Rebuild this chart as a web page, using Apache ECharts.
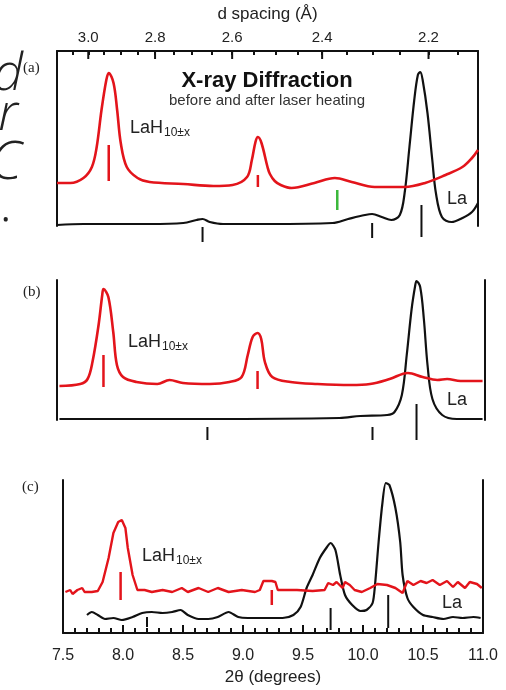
<!DOCTYPE html>
<html>
<head>
<meta charset="utf-8">
<script src="https://cdn.jsdelivr.net/npm/echarts@6/dist/echarts.min.js"></script>
<style>
  html, body { margin: 0; padding: 0; background: #fff; }
  #main { width: 506px; height: 690px; }
</style>
</head>
<body>
<div id="main"></div>
<script>
// X-ray wavelength (A), used for the d-spacing axis on top
var LAMBDA = 0.406;
var dMajor = [3.0, 2.8, 2.6, 2.4, 2.2];
var dMinor = [3.05, 2.95, 2.9, 2.85, 2.75, 2.7, 2.65, 2.55, 2.5, 2.45, 2.35, 2.3, 2.25, 2.15];

// panel (a)  [2theta, intensity]
var redA = [[7.50,43],[7.61,43],[7.72,48],[7.79,59],[7.83,79],[7.87,116],[7.91,146],[7.93,153],[7.97,143],[8.00,116],[8.03,83],[8.08,59],[8.17,48],[8.27,44],[8.55,42],[8.80,40],[8.96,41],[9.08,49],[9.12,66],[9.15,84],[9.17,89],[9.20,83],[9.25,59],[9.27,52],[9.31,45],[9.36,41],[9.45,38],[9.64,43],[9.81,48],[9.95,44],[10.14,39],[10.39,39],[10.56,43],[10.73,51],[10.87,59],[10.95,68],[11.00,76]];
var blackA = [[7.50,1],[7.72,2],[8.27,2],[8.55,3],[8.66,6],[8.71,7],[8.77,4],[8.88,2],[9.27,2],[9.79,3],[9.92,7],[10.06,11],[10.12,12],[10.20,9],[10.28,6],[10.35,11],[10.39,33],[10.43,79],[10.47,126],[10.50,151],[10.52,154],[10.54,146],[10.58,113],[10.62,66],[10.65,33],[10.70,9],[10.78,4],[10.87,8],[10.95,14],[11.00,23]];
// reflection markers [2theta, top, bottom]
var tickBlackA = [[8.71,-1,-16],[10.12,3,-12],[10.53,21,-11]];
var tickGreenA = [[9.83,36,16]];
var tickRedA = [[7.93,81,45],[9.17,51,39]];

// panel (b)
var redB = [[7.52,34],[7.69,36],[7.75,41],[7.79,58],[7.84,95],[7.87,125],[7.88,131],[7.92,123],[7.96,88],[7.99,55],[8.04,43],[8.15,38],[8.32,36],[8.42,40],[8.53,37],[8.75,36],[8.91,38],[9.01,43],[9.06,65],[9.10,83],[9.14,87],[9.17,81],[9.20,58],[9.26,43],[9.41,38],[9.63,36],[9.90,35],[10.06,36],[10.22,41],[10.37,47],[10.49,43],[10.61,40],[10.69,41],[10.80,39],[10.98,39]];
var blackB = [[7.52,1],[7.99,1],[8.71,1],[9.81,2],[9.98,4],[10.20,5],[10.26,8],[10.32,25],[10.36,65],[10.40,111],[10.43,135],[10.44,139],[10.47,133],[10.50,101],[10.53,55],[10.57,21],[10.65,5],[10.77,1],[10.98,1]];
var tickBlackB = [[8.73,-7,-20],[10.08,-7,-20],[10.44,16,-20]];
var tickRedB = [[7.88,65,33],[9.14,49,31]];

// panel (c)
var redC = [[7.52,41],[7.56,43],[7.58,39],[7.62,43],[7.66,45],[7.68,41],[7.74,41],[7.79,42],[7.83,51],[7.88,75],[7.92,100],[7.96,111],[7.99,113],[8.02,105],[8.04,85],[8.08,58],[8.12,43],[8.18,43],[8.24,41],[8.33,43],[8.41,41],[8.49,45],[8.54,41],[8.63,45],[8.71,41],[8.79,45],[8.88,41],[8.99,43],[9.10,41],[9.14,43],[9.17,52],[9.24,52],[9.27,51],[9.29,43],[9.45,43],[9.58,42],[9.68,43],[9.71,50],[9.75,48],[9.78,51],[9.83,45],[9.85,51],[9.89,48],[9.93,43],[9.99,41],[10.06,45],[10.12,49],[10.20,48],[10.27,45],[10.33,40],[10.37,52],[10.42,48],[10.48,52],[10.53,50],[10.58,53],[10.64,48],[10.70,52],[10.75,46],[10.79,51],[10.85,45],[10.89,51],[10.95,49],[10.99,45]];
var blackC = [[7.70,18],[7.74,21],[7.79,18],[7.85,14],[7.92,15],[7.99,13],[8.08,16],[8.16,20],[8.24,21],[8.33,20],[8.41,21],[8.48,23],[8.54,18],[8.63,14],[8.71,14],[8.79,16],[8.88,21],[8.96,16],[9.04,15],[9.16,15],[9.25,15],[9.33,15],[9.42,18],[9.48,26],[9.53,45],[9.58,58],[9.64,75],[9.70,86],[9.73,90],[9.77,83],[9.81,58],[9.85,38],[9.91,28],[9.98,22],[10.03,23],[10.08,30],[10.10,48],[10.13,91],[10.16,128],[10.19,150],[10.22,148],[10.27,125],[10.31,91],[10.33,58],[10.37,35],[10.42,26],[10.50,18],[10.58,16],[10.67,14],[10.75,16],[10.83,15],[10.92,16],[10.98,15]];
var tickBlackC = [[8.20,16,6],[9.73,25,3],[10.21,38,5]];
var tickRedC = [[7.98,61,33],[9.24,43,28]];

function dToTwoTheta(d){
    return 2 * Math.asin(LAMBDA / (2 * d)) * 180 / Math.PI;
}
function twoThetaToD(t){
    return LAMBDA / (2 * Math.sin(t / 2 * Math.PI / 180));
}

var RED = '#e3141b';
var BLACK = '#111111';
var GREEN = '#3cb83c';
var FONT = 'Liberation Sans';
var TOP_A = 175;   // y max of panel (a)

function curve(data, color, width, grid, smooth){
    return {
        type: 'line', data: data, xAxisIndex: grid, yAxisIndex: grid * 2,
        symbol: 'none', smooth: smooth,
        lineStyle: { color: color, width: width },
        silent: true, animation: false, z: color === RED ? 4 : 3
    };
}
function marks(data, color, width, grid){
    return {
        type: 'custom', data: data, xAxisIndex: grid, yAxisIndex: grid * 2,
        encode: { x: 0, y: [1, 2] }, clip: false, silent: true, animation: false, z: 5,
        renderItem: function(params, api){
            var p1 = api.coord([api.value(0), api.value(1)]);
            var p2 = api.coord([api.value(0), api.value(2)]);
            return { type: 'line', shape: { x1: p1[0], y1: p1[1], x2: p2[0], y2: p2[1] },
                     style: { stroke: color, lineWidth: width } };
        }
    };
}
function yPair(grid, max){
    var base = { type: 'value', gridIndex: grid, min: 0, max: max,
        axisLine: { show: true, onZero: false, lineStyle: { color: BLACK, width: 2 } },
        axisTick: { show: false }, axisLabel: { show: false }, splitLine: { show: false } };
    return [Object.assign({ position: 'left' }, base), Object.assign({ position: 'right' }, base)];
}

var majorPos = dMajor.map(dToTwoTheta);
var minorPos = dMinor.map(dToTwoTheta);
// longer major ticks of the d-spacing axis, hanging from the top border
var majorTickSeg = majorPos.map(function(t){ return [t, TOP_A, TOP_A - 8]; });

var chart = echarts.init(document.getElementById('main'));
var option = {
    backgroundColor: '#fff',
    animation: false,
    grid: [
        { left: 57, right: 28, top: 51, height: TOP_A },
        { left: 57, right: 21, top: 280, height: 140 },
        { left: 63, right: 23, top: 480, height: 153 }
    ],
    xAxis: [
        {   // d spacing
            type: 'value', gridIndex: 0, position: 'top', min: 7.5, max: 11,
            name: 'd spacing (Å)', nameLocation: 'middle', nameGap: 28,
            nameTextStyle: { fontFamily: FONT, fontSize: 17, color: '#222' },
            axisLine: { show: true, onZero: false, lineStyle: { color: BLACK, width: 2 } },
            axisTick: { show: true, inside: true, length: 4, customValues: minorPos.concat(majorPos), lineStyle: { color: BLACK, width: 2 } },
            axisLabel: { customValues: majorPos, margin: 6, fontFamily: FONT, fontSize: 15, color: '#222',
                formatter: function(v){ return twoThetaToD(v).toFixed(1); } },
            splitLine: { show: false }
        },
        {
            type: 'value', gridIndex: 1, min: 7.5, max: 11, show: false
        },
        {
            type: 'value', gridIndex: 2, position: 'bottom', min: 7.5, max: 11, interval: 0.5,
            name: '2θ (degrees)', nameLocation: 'middle', nameGap: 36,
            nameTextStyle: { fontFamily: FONT, fontSize: 17, color: '#222' },
            axisLine: { show: true, onZero: false, lineStyle: { color: BLACK, width: 2 } },
            axisTick: { show: true, inside: true, length: 8, lineStyle: { color: BLACK, width: 2 } },
            minorTick: { show: true, splitNumber: 5, length: 5, lineStyle: { color: BLACK, width: 2 } },
            axisLabel: { margin: 15, fontFamily: FONT, fontSize: 16, color: '#222',
                formatter: function(v){ return v.toFixed(1); } },
            splitLine: { show: false }
        }
    ],
    yAxis: [].concat(yPair(0, TOP_A), yPair(1, 140), yPair(2, 153)),
    series: [
        marks(majorTickSeg, BLACK, 2, 0),
        curve(blackA, BLACK, 2.2, 0, 0.35), curve(redA, RED, 2.6, 0, 0.35),
        marks(tickBlackA, BLACK, 2, 0), marks(tickGreenA, GREEN, 2.5, 0), marks(tickRedA, RED, 2.5, 0),
        curve(blackB, BLACK, 2.2, 1, 0.35), curve(redB, RED, 2.6, 1, 0.35),
        marks(tickBlackB, BLACK, 2, 1), marks(tickRedB, RED, 2.5, 1),
        curve(blackC, BLACK, 2.2, 2, 0.25), curve(redC, RED, 2.4, 2, false),
        marks(tickBlackC, BLACK, 2, 2), marks(tickRedC, RED, 2.5, 2)
    ],
    graphic: [
        // title
        { type: 'text', x: 267, y: 81, style: { text: 'X-ray Diffraction', fontFamily: FONT, fontWeight: 'bold', fontSize: 22, fill: '#111', align: 'center', verticalAlign: 'middle' } },
        { type: 'text', x: 267, y: 101, style: { text: 'before and after laser heating', fontFamily: FONT, fontSize: 15, fill: '#333', align: 'center', verticalAlign: 'middle' } },
        // panel letters
        { type: 'text', x: 23, y: 68, style: { text: '(a)', fontFamily: 'Liberation Serif', fontSize: 15, fill: '#222', verticalAlign: 'middle' } },
        { type: 'text', x: 23, y: 292, style: { text: '(b)', fontFamily: 'Liberation Serif', fontSize: 15, fill: '#222', verticalAlign: 'middle' } },
        { type: 'text', x: 22, y: 487, style: { text: '(c)', fontFamily: 'Liberation Serif', fontSize: 15, fill: '#222', verticalAlign: 'middle' } },
        // phase labels
        { type: 'text', x: 130, y: 128, style: { text: '{m|LaH}{s|10±x}', verticalAlign: 'middle',
            rich: { m: { fontFamily: FONT, fontSize: 18, fill: '#222' }, s: { fontFamily: FONT, fontSize: 12, fill: '#222', padding: [10, 0, 0, 1] } } } },
        { type: 'text', x: 128, y: 342, style: { text: '{m|LaH}{s|10±x}', verticalAlign: 'middle',
            rich: { m: { fontFamily: FONT, fontSize: 18, fill: '#222' }, s: { fontFamily: FONT, fontSize: 12, fill: '#222', padding: [10, 0, 0, 1] } } } },
        { type: 'text', x: 142, y: 556, style: { text: '{m|LaH}{s|10±x}', verticalAlign: 'middle',
            rich: { m: { fontFamily: FONT, fontSize: 18, fill: '#222' }, s: { fontFamily: FONT, fontSize: 12, fill: '#222', padding: [10, 0, 0, 1] } } } },
        { type: 'text', x: 447, y: 199, style: { text: 'La', fontFamily: FONT, fontSize: 18, fill: '#222', verticalAlign: 'middle' } },
        { type: 'text', x: 447, y: 400, style: { text: 'La', fontFamily: FONT, fontSize: 18, fill: '#222', verticalAlign: 'middle' } },
        { type: 'text', x: 442, y: 603, style: { text: 'La', fontFamily: FONT, fontSize: 18, fill: '#222', verticalAlign: 'middle' } },
        // cut-off slide text at the left edge
        { type: 'text', x: 23, y: 101, style: { text: 'd', fontFamily: 'Open Sans', fontWeight: 300, fontStyle: 'italic', fontSize: 52, fill: '#222', align: 'right', verticalAlign: 'bottom' } },
        { type: 'text', x: 18, y: 141, style: { text: 'r', fontFamily: 'Open Sans', fontWeight: 300, fontStyle: 'italic', fontSize: 52, fill: '#222', align: 'right', verticalAlign: 'bottom' } },
        { type: 'text', x: 22, y: 191, style: { text: 'C', fontFamily: 'Open Sans', fontWeight: 300, fontStyle: 'italic', fontSize: 54, fill: '#222', align: 'right', verticalAlign: 'bottom' } },
        { type: 'text', x: 12, y: 232, style: { text: '.', fontFamily: 'Open Sans', fontWeight: 300, fontSize: 52, fill: '#222', align: 'right', verticalAlign: 'bottom' } }
    ]
};
chart.setOption(option);
</script>
</body>
</html>
